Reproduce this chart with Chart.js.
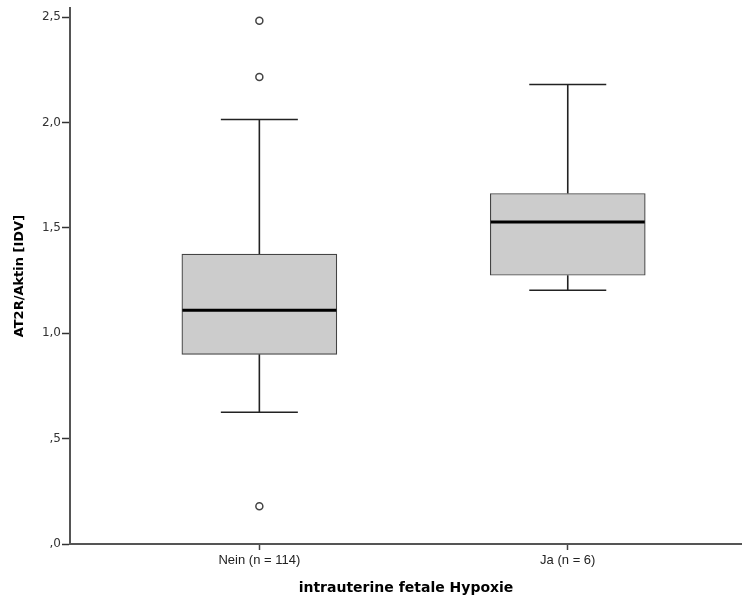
<!DOCTYPE html>
<html>
<head>
<meta charset="utf-8">
<script src="https://cdn.jsdelivr.net/npm/chart.js@4"></script>
<style>
  html, body { margin: 0; padding: 0; background: #fff; }
  canvas { display: block; }
</style>
</head>
<body>
<canvas id="boxChart" width="742" height="599"></canvas>
<script>
// groups on the x axis
const groupLabels = ['Nein (n = 114)', 'Ja (n = 6)'];
const groupPos = [1, 2];

// box plot statistics
const whiskerLow = [0.625, 1.204];
const q1 = [0.900, 1.275];
const median = [1.109, 1.528];
const q3 = [1.375, 1.663];
const whiskerHigh = [2.014, 2.180];

// outliers (group position, value)
const outlierPos = [1, 1, 1];
const outlierVal = [2.482, 2.216, 0.179];

// y ticks, SPSS german format
const yTickValues = [0, 0.5, 1, 1.5, 2, 2.5];
const yTickLabels = [',0', ',5', '1,0', '1,5', '2,0', '2,5'];

const ctx = document.getElementById('boxChart');

const boxData = groupPos.map((p, i) => ({ x: p, y: [q1[i], q3[i]] }));
const outlierData = outlierPos.map((p, i) => ({ x: p, y: outlierVal[i] }));

// whiskers + medians, drawn through the scales
const boxExtras = {
  id: 'boxExtras',
  beforeDatasetsDraw(chart) {
    const { ctx } = chart;
    const xs = chart.scales.x, ys = chart.scales.y;
    ctx.save();
    ctx.strokeStyle = '#222';
    ctx.lineWidth = 1.6;
    groupPos.forEach((p, i) => {
      const cx = xs.getPixelForValue(p);
      const capHalf = 38.5;
      ctx.beginPath();
      ctx.moveTo(cx, ys.getPixelForValue(q3[i]));
      ctx.lineTo(cx, ys.getPixelForValue(whiskerHigh[i]));
      ctx.moveTo(cx - capHalf, ys.getPixelForValue(whiskerHigh[i]));
      ctx.lineTo(cx + capHalf, ys.getPixelForValue(whiskerHigh[i]));
      ctx.moveTo(cx, ys.getPixelForValue(q1[i]));
      ctx.lineTo(cx, ys.getPixelForValue(whiskerLow[i]));
      ctx.moveTo(cx - capHalf, ys.getPixelForValue(whiskerLow[i]));
      ctx.lineTo(cx + capHalf, ys.getPixelForValue(whiskerLow[i]));
      ctx.stroke();
    });
    ctx.restore();
  },
  afterDatasetsDraw(chart) {
    const { ctx } = chart;
    const xs = chart.scales.x, ys = chart.scales.y;
    ctx.save();
    ctx.strokeStyle = '#000';
    ctx.lineWidth = 3;
    groupPos.forEach((p, i) => {
      const cx = xs.getPixelForValue(p);
      const y = ys.getPixelForValue(median[i]);
      ctx.beginPath();
      ctx.moveTo(cx - 77, y);
      ctx.lineTo(cx + 77, y);
      ctx.stroke();
    });
    ctx.restore();
  }
};

new Chart(ctx, {
  data: {
    datasets: [
      {
        type: 'scatter',
        data: outlierData,
        pointStyle: 'circle',
        pointRadius: 3.5,
        pointBackgroundColor: '#fff',
        pointBorderColor: '#444',
        pointBorderWidth: 1.5
      },
      {
        type: 'bar',
        data: boxData,
        backgroundColor: '#cccccc',
        borderColor: '#444',
        borderWidth: 1.2,
        borderSkipped: false,
        barThickness: 155
      }
    ]
  },
  options: {
    responsive: false,
    animation: false,
    devicePixelRatio: 1,
    layout: { autoPadding: false, padding: { top: 8, left: 0, right: 0, bottom: 0 } },
    plugins: {
      legend: { display: false },
      tooltip: { enabled: false }
    },
    scales: {
      x: {
        type: 'linear',
        offset: false,
        min: 0.386,
        max: 2.565,
        afterBuildTicks: scale => { scale.ticks = groupPos.map(v => ({ value: v })); },
        afterFit: scale => { scale.height = 55; },
        ticks: {
          color: '#222',
          font: { family: 'Liberation Sans', size: 13 },
          padding: 3,
          maxRotation: 0,
          callback: (v) => groupLabels[groupPos.indexOf(v)]
        },
        grid: {
          offset: false,
          drawOnChartArea: false,
          tickLength: 6,
          tickColor: '#444',
          tickWidth: 1.5
        },
        border: { color: '#555', width: 2 },
        title: {
          display: true,
          text: 'intrauterine fetale Hypoxie',
          color: '#000',
          font: { family: 'DejaVu Sans', size: 14, weight: 'bold' },
          padding: { top: 0, bottom: 2 }
        }
      },
      y: {
        type: 'linear',
        min: 0,
        max: 2.542,
        afterBuildTicks: scale => { scale.ticks = yTickValues.map(v => ({ value: v })); },
        afterFit: scale => { scale.width = 70; },
        ticks: {
          color: '#333',
          font: { family: 'DejaVu Sans', size: 12 },
          padding: 1,
          callback: (v) => yTickLabels[yTickValues.indexOf(v)]
        },
        grid: {
          drawOnChartArea: false,
          tickLength: 8,
          tickColor: '#333',
          tickWidth: 1.5
        },
        border: { color: '#555', width: 2 },
        title: {
          display: true,
          text: 'AT2R/Aktin [IDV]',
          color: '#000',
          font: { family: 'DejaVu Sans', size: 13, weight: 'bold' },
          padding: { top: 12, bottom: 0 }
        }
      }
    }
  },
  plugins: [boxExtras]
});
</script>
</body>
</html>
